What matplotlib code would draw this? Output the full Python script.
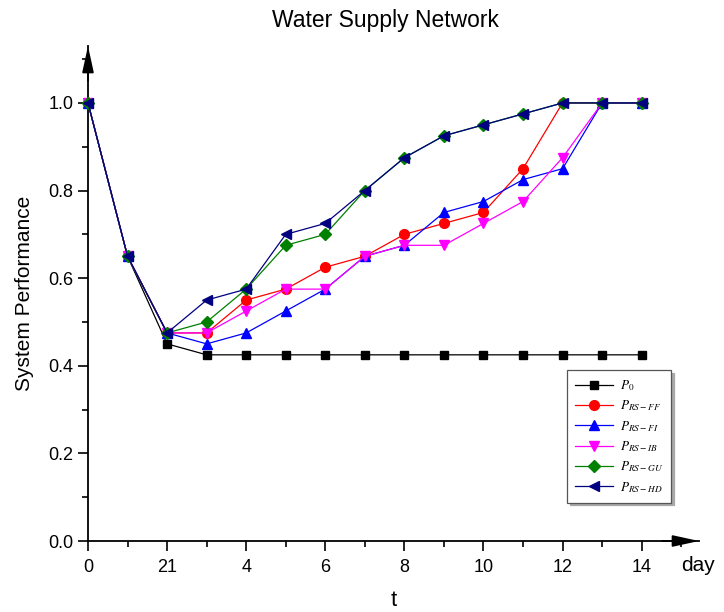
import matplotlib
matplotlib.use("Agg")
import matplotlib.pyplot as plt
from matplotlib.ticker import FixedLocator

plt.rcParams['font.family'] = ['Liberation Sans', 'DejaVu Sans']
plt.rcParams['mathtext.fontset'] = 'stix'

t = list(range(15))
p0     = [1.0, 0.65, 0.45, 0.425, 0.425, 0.425, 0.425, 0.425, 0.425, 0.425, 0.425, 0.425, 0.425, 0.425, 0.425]
p_ff   = [1.0, 0.65, 0.475, 0.475, 0.55, 0.575, 0.625, 0.65, 0.70, 0.725, 0.75, 0.85, 1.0, 1.0, 1.0]
p_fi   = [1.0, 0.65, 0.475, 0.45, 0.475, 0.525, 0.575, 0.65, 0.675, 0.75, 0.775, 0.825, 0.85, 1.0, 1.0]
p_ib   = [1.0, 0.65, 0.475, 0.475, 0.525, 0.575, 0.575, 0.65, 0.675, 0.675, 0.725, 0.775, 0.875, 1.0, 1.0]
p_gu   = [1.0, 0.65, 0.475, 0.50, 0.575, 0.675, 0.70, 0.80, 0.875, 0.925, 0.95, 0.975, 1.0, 1.0, 1.0]
p_hd   = [1.0, 0.65, 0.475, 0.55, 0.575, 0.70, 0.725, 0.80, 0.875, 0.925, 0.95, 0.975, 1.0, 1.0, 1.0]

labels = [r'$P_0$', r'$P_{RS-FF}$', r'$P_{RS-FI}$', r'$P_{RS-IB}$', r'$P_{RS-GU}$', r'$P_{RS-HD}$']
x_ticks = [0, 2, 4, 6, 8, 10, 12, 14]
x_ticklabels = ['0', '21', '4', '6', '8', '10', '12', '14']
y_ticks = [0.0, 0.2, 0.4, 0.6, 0.8, 1.0]

fig = plt.figure(figsize=(7.24, 6.12), dpi=100)
ax = fig.add_axes([88/724, 71/612, 611/724, 495/612])

series = [p0, p_ff, p_fi, p_ib, p_gu, p_hd]
colors = ['black', '#ff0000', '#0000ff', '#ff00ff', '#008000', '#000080']
markers = ['s', 'o', '^', 'v', 'D', '<']
msizes = [6, 7, 7.5, 7.5, 6, 7.5]
for y, c, m, ms, lab in zip(series, colors, markers, msizes, labels):
    ax.plot(t, y, color=c, marker=m, markersize=ms, linewidth=0.9, label=lab, clip_on=False, zorder=3)

ax.set_xlim(0, 15.45)
ax.set_ylim(0, 1.13)

for s in ['top', 'right']:
    ax.spines[s].set_visible(False)
for s in ['left', 'bottom']:
    ax.spines[s].set_linewidth(1.3)

ax.xaxis.set_major_locator(FixedLocator(x_ticks))
ax.set_xticklabels(x_ticklabels)
ax.xaxis.set_minor_locator(FixedLocator([1, 3, 5, 7, 9, 11, 13, 15]))
ax.yaxis.set_major_locator(FixedLocator(y_ticks))
ax.set_yticklabels(['%.1f' % v for v in y_ticks])
ax.yaxis.set_minor_locator(FixedLocator([0.1, 0.3, 0.5, 0.7, 0.9, 1.1]))
ax.tick_params(which='major', length=7, width=1.2, labelsize=13, direction='out')
ax.tick_params(which='minor', length=4, width=1.2, direction='out')
ax.tick_params(axis='x', pad=6)

# axis arrows
arrow_kw = dict(arrowstyle='-|>,head_length=1.6,head_width=0.35', color='black', lw=1.3,
                shrinkA=0, shrinkB=0)
ax.annotate('', xy=(1.0, 0), xytext=(0.94, 0), xycoords='axes fraction', arrowprops=arrow_kw,
            annotation_clip=False)
ax.annotate('', xy=(0, 1.0), xytext=(0, 0.93), xycoords='axes fraction', arrowprops=arrow_kw,
            annotation_clip=False)

fig.text(385/724, 1 - 21/612, 'Water Supply Network', fontsize=16.5, ha='center', va='center')
ax.set_ylabel('System Performance', fontsize=15, labelpad=10)
ax.set_xlabel('t', fontsize=16, labelpad=10)
ax.text(0.97, -0.05, 'day', transform=ax.transAxes, fontsize=15, ha='left', va='center')

leg = ax.legend(loc='upper left', bbox_to_anchor=(0.784, 0.345), frameon=True, fancybox=False,
                fontsize=9.5, handlelength=2.9, handletextpad=0.5, borderpad=0.6, labelspacing=0.42,
                shadow={'color': '#a8a8a8', 'alpha': 1.0}, borderaxespad=0)
leg.get_frame().set_edgecolor('#555555')
leg.get_frame().set_linewidth(0.9)

fig.savefig('out.png', dpi=100)
